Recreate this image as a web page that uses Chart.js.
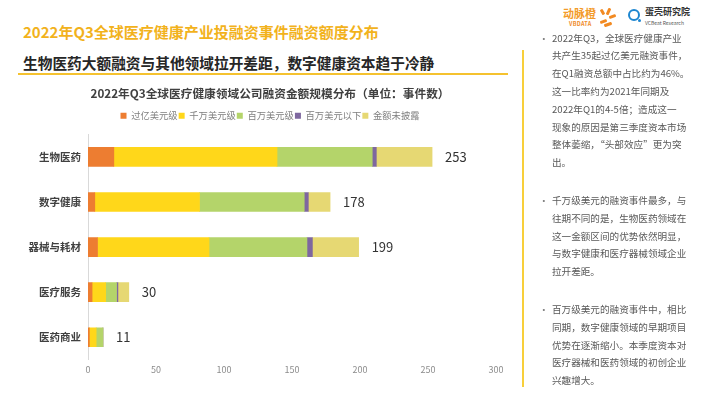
<!DOCTYPE html>
<html lang="zh-CN">
<head>
<meta charset="utf-8">
<title>2022年Q3全球医疗健康产业投融资事件融资额度分布</title>
<script src="https://cdn.jsdelivr.net/npm/chart.js@4.4.1/dist/chart.umd.min.js"></script>
<style>
    html, body { margin: 0; padding: 0; background: #fff; }
    body {
        width: 710px; height: 399px; position: relative; overflow: hidden;
        font-family: "Noto Sans CJK SC", "Noto Sans", sans-serif;
    }
    .title {
        position: absolute; left: 23px; top: 22px;
        font-size: 15px; line-height: 20px; font-weight: bold;
        color: #F2B21C; white-space: nowrap;
    }
    .subtitle {
        position: absolute; left: 23px; top: 53px;
        font-size: 14.7px; line-height: 20px; font-weight: bold;
        color: #262626; white-space: nowrap;
    }
    .underline { position: absolute; left: 18px; top: 73px; width: 490px; height: 2px; background: #F5C22F; }
    .vline { position: absolute; left: 522px; top: 50px; width: 2px; height: 337px; background: #F8CF3A; }
    #chartBox { position: absolute; left: 0; top: 80px; }

    /* right side notes */
    .notes {
        position: absolute; left: 552px; top: 29.6px;
        font-size: 9.6px; line-height: 17.8px; color: #595959;
    }
    .notes p { margin: 0 0 20px 0; position: relative; white-space: nowrap; }
    .notes p::before { content: "•"; position: absolute; left: -13px; top: 0; color: #7f7f7f; }

    /* logos */
    .mb { position: absolute; left: 563px; top: 6px; font-size: 11px; line-height: 14px; font-weight: bold; color: #F39B2A; }
    .vb { position: absolute; left: 569px; top: 21px; font-size: 5.5px; line-height: 6px; font-weight: bold; color: #F08C2A; letter-spacing: 0.3px; }
    .sp { position: absolute; background: #F28A22; border-radius: 1px; }
    .ring { position: absolute; left: 628px; top: 9px; width: 8px; height: 8px; border: 2.5px solid #1D86D0; border-radius: 50%; }
    .ringdot { position: absolute; left: 638px; top: 19px; width: 3px; height: 3px; background: #1D86D0; border-radius: 50%; }
    .dk { position: absolute; left: 645px; top: 6px; font-size: 9px; line-height: 11px; color: #333; font-weight: bold; }
    .vc { position: absolute; left: 645px; top: 20px; font-size: 5px; line-height: 6px; color: #555; }
</style>
</head>
<body>

<div class="title">2022年Q3全球医疗健康产业投融资事件融资额度分布</div>
<div class="subtitle">生物医药大额融资与其他领域拉开差距，数字健康资本趋于冷静</div>
<div class="underline"></div>
<div class="vline"></div>

<div class="mb">动脉橙</div>
<div class="vb">VBDATA</div>
<div class="sp" style="left:601px;top:9px;width:3px;height:6px;transform:rotate(-30deg)"></div>
<div class="sp" style="left:607px;top:8px;width:3px;height:7px;transform:rotate(25deg)"></div>
<div class="sp" style="left:609px;top:15px;width:7px;height:3px;transform:rotate(-20deg)"></div>
<div class="sp" style="left:600px;top:20px;width:7px;height:3px;transform:rotate(-20deg)"></div>
<div class="sp" style="left:604px;top:23px;width:8px;height:3px;transform:rotate(-20deg)"></div>
<div class="ring"></div>
<div class="ringdot"></div>
<div class="dk">蛋壳研究院</div>
<div class="vc">VCBeat Research</div>

<div id="chartBox"><canvas id="fundingChart" width="540" height="310"></canvas></div>

<div class="notes">
    <p>2022年Q3，全球医疗健康产业<br>共产生35起过亿美元融资事件，<br>在Q1融资总额中占比约为46%。<br>这一比率约为2021年同期及<br>2022年Q1的4-5倍；造成这一<br>现象的原因是第三季度资本市场<br>整体萎缩，“头部效应”更为突<br>出。</p>
    <p>千万级美元的融资事件最多，与<br>往期不同的是，生物医药领域在<br>这一金额区间的优势依然明显，<br>与数字健康和医疗器械领域企业<br>拉开差距。</p>
    <p>百万级美元的融资事件中，相比<br>同期，数字健康领域的早期项目<br>优势在逐渐缩小。本季度资本对<br>医疗器械和医药领域的初创企业<br>兴趣增大。</p>
</div>

<script>
// Data (number of deals)
const categories = ['生物医药', '数字健康', '器械与耗材', '医疗服务', '医药商业'];
const seriesNames = ['过亿美元级', '千万美元级', '百万美元级', '百万美元以下', '金额未披露'];
const over100M = [19, 5, 7, 3, 1];
const tenMillions = [120, 77, 82, 10, 5];
const millions = [70, 77, 72, 8, 5];
const underMillion = [3, 3, 4, 1, 0];
const undisclosed = [41, 16, 34, 8, 0];
const totals = [253, 178, 199, 30, 11];
const xTicks = [0, 50, 100, 150, 200, 250, 300];

const colors = ['#ED7D31', '#FFD71A', '#B4D46A', '#7E679F', '#E6D873'];
const FONT = '"Noto Sans CJK SC", "Noto Sans", sans-serif';
Chart.defaults.font.family = FONT;

const values = [over100M, tenMillions, millions, underMillion, undisclosed];

// Total number to the right of each bar
const totalLabels = {
    id: 'totalLabels',
    afterDatasetsDraw(chart) {
        const ctx = chart.ctx;
        const xs = chart.scales.x;
        const ys = chart.scales.y;
        ctx.save();
        ctx.font = '13px ' + FONT;
        ctx.fillStyle = '#333333';
        ctx.textAlign = 'left';
        ctx.textBaseline = 'middle';
        totals.forEach((t, i) => {
            ctx.fillText(String(t), xs.getPixelForValue(t) + 13, ys.getPixelForValue(i));
        });
        ctx.restore();
    }
};

new Chart(document.getElementById('fundingChart').getContext('2d'), {
    type: 'bar',
    data: {
        labels: categories,
        datasets: seriesNames.map((name, i) => ({
            label: name,
            data: values[i],
            backgroundColor: colors[i],
            borderWidth: 0,
            barThickness: 19
        }))
    },
    options: {
        indexAxis: 'y',
        responsive: false,
        animation: false,
        devicePixelRatio: 1,
        layout: { padding: { left: 0, right: 0, top: 0, bottom: 11.4 } },
        plugins: {
            title: {
                display: true,
                text: '2022年Q3全球医疗健康领域公司融资金额规模分布（单位：事件数）',
                color: '#404040',
                font: { size: 11.7, weight: 'bold' },
                padding: { top: 7, bottom: 9 }
            },
            legend: {
                display: true,
                position: 'top',
                labels: {
                    color: '#7F7F7F',
                    font: { size: 9.3 },
                    boxWidth: 6,
                    boxHeight: 6,
                    padding: 1
                }
            },
            // small spacer between legend and plot area
            subtitle: {
                display: true,
                text: '',
                weight: 900,
                padding: 0,
                font: { size: 4, lineHeight: 1 }
            },
            tooltip: { enabled: false }
        },
        scales: {
            x: {
                stacked: true,
                min: 0,
                max: 300,
                afterBuildTicks: (s) => { s.ticks = xTicks.map(v => ({ value: v })); },
                grid: { display: false, drawTicks: false },
                border: { display: false },
                ticks: { color: '#8C8C8C', font: { size: 9 }, padding: 4 }
            },
            y: {
                stacked: true,
                afterFit: (s) => { s.width = 88; },
                grid: { display: false, drawTicks: false },
                border: { display: true, color: '#D9D9D9', width: 1 },
                ticks: { color: '#404040', font: { size: 10.5, weight: 'bold' }, padding: 7 }
            },
            // empty right-hand axis, reserves room for the total labels
            yRight: {
                type: 'category',
                position: 'right',
                afterFit: (s) => { s.width = 44; },
                grid: { display: false, drawTicks: false },
                border: { display: false },
                ticks: { display: false }
            }
        }
    },
    plugins: [totalLabels]
});
</script>
</body>
</html>
